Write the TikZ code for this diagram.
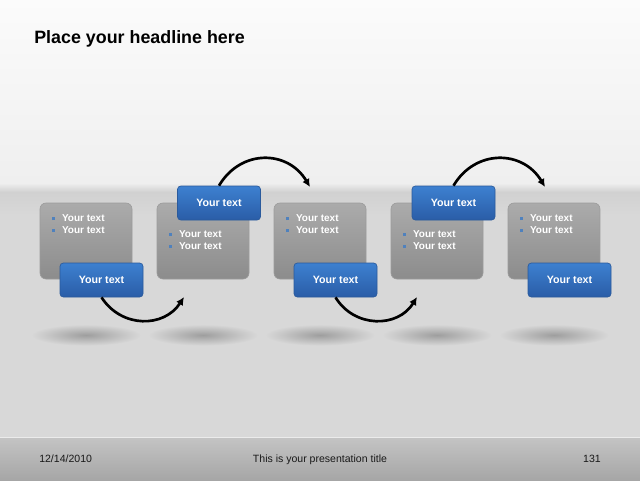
\documentclass[tikz,border=0pt]{standalone}
\usepackage{fontspec}
\setmainfont{Liberation Sans}
\usetikzlibrary{arrows.meta}
\definecolor{bandgray}{HTML}{D8D8D8}
\definecolor{topwhite}{HTML}{FBFBFB}
\definecolor{topend}{HTML}{EFEFEF}
\definecolor{foottop}{HTML}{C4C4C4}
\definecolor{footbot}{HTML}{A6A6A6}
\definecolor{greytop}{HTML}{ABABAB}
\definecolor{greybot}{HTML}{8C8C8C}
\definecolor{greyline}{HTML}{9C9C9C}
\definecolor{bluetop}{HTML}{3D80D0}
\definecolor{bluebot}{HTML}{2A5DA7}
\definecolor{blueline}{HTML}{2A5A9C}
\definecolor{bulletblue}{HTML}{4F81BD}
\newcommand{\bsq}{\textcolor{bulletblue}{\rule[0.25ex]{2.3pt}{2.3pt}}\hspace{5pt}}
\begin{document}
\begin{tikzpicture}[x=0.75pt,y=-0.75pt,
  gbox/.style={rounded corners=4.5pt, minimum width=69pt, minimum height=57pt,
    top color=greytop, bottom color=greybot, draw=greyline, line width=0.5pt, inner sep=0pt},
  bbox/.style={rounded corners=2.5pt, minimum width=62.25pt, minimum height=25.5pt,
    top color=bluetop, bottom color=bluebot, draw=blueline, line width=0.5pt,
    text=white, font=\fontsize{8}{9}\selectfont\bfseries, inner sep=0pt},
  btxt/.style={anchor=base west, inner sep=0pt, text=white,
    font=\fontsize{7.5}{9}\selectfont\bfseries},
  arr/.style={line width=2pt, line cap=butt, -{Latex[length=6pt,width=6pt]}},
  foot/.style={inner sep=0pt, text=black!90, font=\fontsize{7.9}{9}\selectfont},
  shadowell/.style={inner color=black!38, outer color=bandgray}
]
\useasboundingbox (0,0) rectangle (640,480);
% background
\fill[top color=topwhite, bottom color=topend] (0,0) rectangle (640,183);
\fill[top color=topend, bottom color=black!18] (0,183) rectangle (640,192);
\fill[top color=black!18, bottom color=bandgray] (0,192) rectangle (640,215);
\fill[bandgray] (0,215) rectangle (640,437);
\fill[top color=foottop, bottom color=footbot] (0,437) rectangle (640,480);
\fill[white!92!black] (0,436.5) rectangle (640,437.5);
% shadows
\foreach \cx in {86,203,320,437,554}
  \shade[shadowell] (\cx,335) ellipse [x radius=41pt, y radius=8pt];
% title
\node[anchor=base west, inner sep=0pt, font=\fontsize{13.4}{16}\selectfont\bfseries] (title) at (34,43) {Place your headline here};
% free ends of arrows
\coordinate (e1) at (184,297);
\coordinate (e2) at (310,187);
\coordinate (e3) at (417,297);
\coordinate (e4) at (545,187);
% grey boxes
\node[gbox] (g1) at (86,241) {};
\node[gbox] (g2) at (203,241) {};
\node[gbox] (g3) at (320,241) {};
\node[gbox] (g4) at (437,241) {};
\node[gbox] (g5) at (554,241) {};
% blue boxes
\node[bbox] (b1) at (101.5,280) {Your text};
\node[bbox] (b2) at (219,203) {Your text};
\node[bbox] (b3) at (335.5,280) {Your text};
\node[bbox] (b4) at (453.5,203) {Your text};
\node[bbox] (b5) at (569.5,280) {Your text};
% arrows
\draw[arr] (b1.south) .. controls +(20,31) and +(-20,31) .. (e1);
\draw[arr] (b2.north) .. controls +(22,-37) and +(-22,-37) .. (e2);
\draw[arr] (b3.south) .. controls +(19,31) and +(-19,31) .. (e3);
\draw[arr] (b4.north) .. controls +(22,-37) and +(-22,-37) .. (e4);
% bullet texts
\node[btxt] (t1a) at (52,221.5) {\bsq Your text};
\node[btxt] (t1b) at (52,233.5) {\bsq Your text};
\node[btxt] (t2a) at (169,237.5) {\bsq Your text};
\node[btxt] (t2b) at (169,249.5) {\bsq Your text};
\node[btxt] (t3a) at (286,221.5) {\bsq Your text};
\node[btxt] (t3b) at (286,233.5) {\bsq Your text};
\node[btxt] (t4a) at (403,237.5) {\bsq Your text};
\node[btxt] (t4b) at (403,249.5) {\bsq Your text};
\node[btxt] (t5a) at (520,221.5) {\bsq Your text};
\node[btxt] (t5b) at (520,233.5) {\bsq Your text};
% footer
\node[foot, anchor=base west] (date) at (39,462) {12/14/2010};
\node[foot, anchor=base] (ptitle) at (320,462) {This is your presentation title};
\node[foot, anchor=base east] (pnum) at (601,462) {131};
\end{tikzpicture}
\end{document}
